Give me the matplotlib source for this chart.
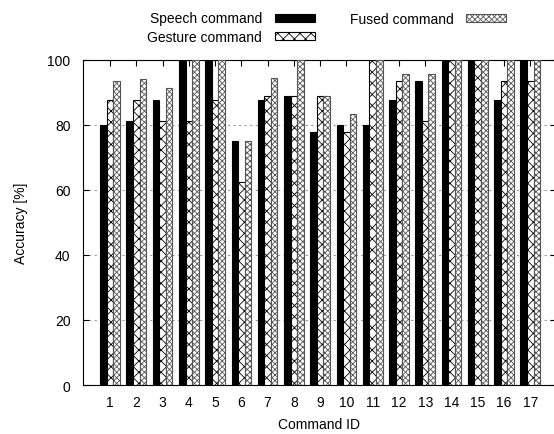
import matplotlib
matplotlib.use("Agg")
import matplotlib.pyplot as plt
import numpy as np

plt.rcParams['font.family'] = ['Liberation Sans', 'DejaVu Sans']
plt.rcParams['hatch.linewidth'] = 0.6

commands = list(range(1, 18))
speech = [80, 81.2, 87.5, 100, 100, 75, 87.5, 88.9, 77.8, 80, 80, 87.5, 93.3, 100, 100, 87.5, 100]
gesture = [87.5, 87.5, 81.2, 81.2, 87.5, 62.5, 88.9, 88.9, 88.9, 77.8, 100, 93.3, 81.2, 100, 100, 93.3, 93.3]
fused = [93.3, 94.1, 91.3, 100, 100, 75, 94.4, 100, 88.9, 83.3, 100, 95.7, 95.7, 100, 100, 100, 100]
series_names = ["Speech command", "Gesture command", "Fused command"]
yticks = [0, 20, 40, 60, 80, 100]

fig = plt.figure(figsize=(5.54, 4.35), dpi=100)
ax = fig.add_axes([0.1498, 0.1126, 0.8538, 0.7479])

x = np.array(commands, dtype=float)
w = 0.25
b1 = ax.bar(x - w, speech, w, color='black', edgecolor='black', linewidth=0.8, label=series_names[0], zorder=3)
b2 = ax.bar(x, gesture, w, color='white', edgecolor='black', hatch='xxx', linewidth=0.8, label=series_names[1], zorder=3)
b3 = ax.bar(x + w, fused, w, color='white', edgecolor='#555555', hatch='xxxxxx', linewidth=0.8, label=series_names[2], zorder=3)

ax.set_xlim(-0.03, 17.98)
ax.set_ylim(0, 100)
ax.set_xticks(commands)
ax.set_yticks(yticks)
ax.tick_params(axis='both', direction='in', labelsize=10, length=4, width=0.8, top=True, right=True)
ax.tick_params(axis='x', pad=7)
ax.tick_params(axis='y', pad=9)
ax.yaxis.grid(True, linestyle=(0, (2, 3)), color='#999999', linewidth=0.8, zorder=0)
ax.set_axisbelow(True)
for s in ax.spines.values():
    s.set_linewidth(0.8)

ax.set_xlabel("Command ID", fontsize=10, labelpad=6)
ax.set_ylabel("Accuracy [%]", fontsize=10, labelpad=14)

fig.legend(handles=[b1, b2, b3], labels=series_names, loc='upper center', bbox_to_anchor=(0.59, 1.0),
           ncol=2, frameon=False, markerfirst=False, fontsize=10, handlelength=2.9, handleheight=0.5,
           handletextpad=0.9, columnspacing=2.5, labelspacing=0.35)

fig.savefig("out.png", dpi=100)
